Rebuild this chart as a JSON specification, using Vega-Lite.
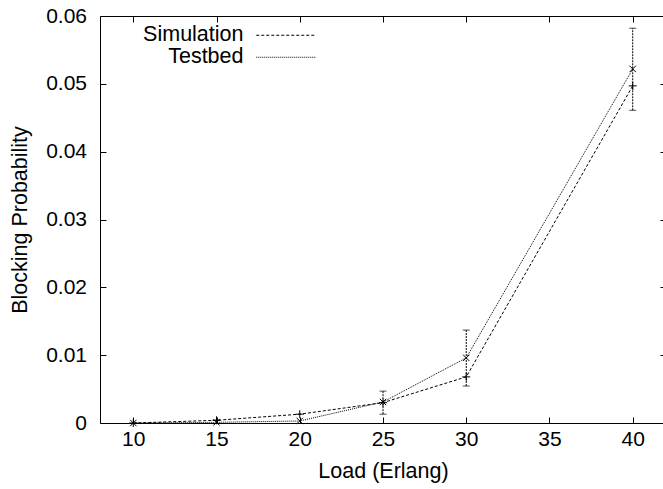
{
  "$schema": "https://vega.github.io/schema/vega-lite/v6.json",
  "width": 566,
  "height": 407,
  "autosize": "none",
  "padding": {"left": 100, "top": 16, "right": 0, "bottom": 66},
  "background": "white",
  "config": {
    "view": {"stroke": "black", "strokeWidth": 1},
    "font": "Liberation Sans",
    "axis": {
      "grid": false,
      "domain": false,
      "offset": -6,
      "tickColor": "black",
      "tickWidth": 1,
      "tickSize": 6,
      "labelColor": "black",
      "titleColor": "black",
      "labelFont": "Liberation Sans",
      "titleFont": "Liberation Sans",
      "labelFontSize": 21,
      "titleFontSize": 21.5,
      "titleFontWeight": "normal"
    },
    "legend": {
      "orient": "none",
      "legendX": 175,
      "legendY": 8.5,
      "symbolType": "M-2.95,0L2.95,0",
      "symbolSize": 400,
      "symbolStrokeWidth": 1,
      "symbolStrokeColor": "black",
      "symbolFillColor": "transparent",
      "labelAlign": "right",
      "labelOffset": -53,
      "labelFont": "Liberation Sans",
      "labelFontSize": 21.5,
      "labelColor": "black",
      "labelLimit": 0,
      "padding": 0,
      "rowPadding": -2
    }
  },
  "datasets": {
    "series": [
      {"series": "Simulation", "load": 10, "p": 0.0},
      {"series": "Simulation", "load": 15, "p": 0.0004},
      {"series": "Simulation", "load": 20, "p": 0.0013},
      {"series": "Simulation", "load": 25, "p": 0.0030},
      {"series": "Simulation", "load": 30, "p": 0.0068},
      {"series": "Simulation", "load": 40, "p": 0.0497},
      {"series": "Testbed", "load": 10, "p": 0.0},
      {"series": "Testbed", "load": 15, "p": 0.0001},
      {"series": "Testbed", "load": 20, "p": 0.0003},
      {"series": "Testbed", "load": 25, "p": 0.0031},
      {"series": "Testbed", "load": 30, "p": 0.0096},
      {"series": "Testbed", "load": 40, "p": 0.0522}
    ],
    "err": [
      {"load": 25, "lo": 0.0013, "hi": 0.0047},
      {"load": 30, "lo": 0.00545, "hi": 0.0137},
      {"load": 40, "lo": 0.0461, "hi": 0.0582}
    ]
  },
  "layer": [
    {
      "data": {"name": "series"},
      "mark": {"type": "line", "color": "black", "strokeWidth": 1},
      "encoding": {
        "x": {
          "field": "load", "type": "quantitative",
          "scale": {"domain": [8, 42], "nice": false, "zero": false},
          "axis": {
            "orient": "bottom",
            "values": [10, 15, 20, 25, 30, 35, 40],
            "title": "Load (Erlang)",
            "labelPadding": 5,
            "titleY": 60,
            "titleAlign": "center",
            "titleBaseline": "alphabetic"
          }
        },
        "y": {
          "field": "p", "type": "quantitative",
          "scale": {"domain": [0, 0.06], "nice": false},
          "axis": {
            "orient": "left",
            "values": [0, 0.01, 0.02, 0.03, 0.04, 0.05, 0.06],
            "format": ".2~f",
            "title": "Blocking Probability",
            "labelPadding": 13.5,
            "titleX": -80,
            "titleY": 203.5,
            "titleAngle": -90,
            "titleAlign": "center",
            "titleBaseline": "alphabetic"
          }
        },
        "strokeDash": {
          "field": "series", "type": "nominal",
          "scale": {"domain": ["Simulation", "Testbed"], "range": [[3, 2], [1, 1]]},
          "legend": {"title": null}
        }
      }
    },
    {
      "data": {"name": "series"},
      "transform": [{"filter": "datum.series === 'Simulation'"}],
      "mark": {"type": "point", "filled": false, "color": "black", "strokeWidth": 1, "size": 64, "opacity": 1, "shape": "M-1,0L1,0M0,-1L0,1"},
      "encoding": {
        "x": {
          "field": "load", "type": "quantitative",
          "axis": {"orient": "top", "values": [10, 15, 20, 25, 30, 35, 40], "labels": false, "title": null}
        },
        "y": {
          "field": "p", "type": "quantitative",
          "axis": {"orient": "right", "values": [0, 0.01, 0.02, 0.03, 0.04, 0.05, 0.06], "labels": false, "title": null}
        }
      }
    },
    {
      "data": {"name": "series"},
      "transform": [{"filter": "datum.series === 'Testbed'"}],
      "mark": {"type": "point", "filled": false, "color": "black", "strokeWidth": 1, "size": 64, "opacity": 1, "shape": "M-0.8,-0.8L0.8,0.8M-0.8,0.8L0.8,-0.8"},
      "encoding": {
        "x": {"field": "load", "type": "quantitative", "axis": null},
        "y": {"field": "p", "type": "quantitative", "axis": null}
      }
    },
    {
      "data": {"name": "err"},
      "mark": {"type": "rule", "color": "black", "strokeWidth": 1, "strokeDash": [2, 1]},
      "encoding": {
        "x": {"field": "load", "type": "quantitative", "axis": null},
        "y": {"field": "lo", "type": "quantitative", "axis": null},
        "y2": {"field": "hi"}
      }
    },
    {
      "data": {"name": "err"},
      "mark": {"type": "tick", "color": "black", "orient": "horizontal", "size": 7, "thickness": 1},
      "encoding": {
        "x": {"field": "load", "type": "quantitative", "axis": null},
        "y": {"field": "lo", "type": "quantitative", "axis": null}
      }
    },
    {
      "data": {"name": "err"},
      "mark": {"type": "tick", "color": "black", "orient": "horizontal", "size": 7, "thickness": 1},
      "encoding": {
        "x": {"field": "load", "type": "quantitative", "axis": null},
        "y": {"field": "hi", "type": "quantitative", "axis": null}
      }
    }
  ],
  "resolve": {"axis": {"x": "independent", "y": "independent"}}
}
